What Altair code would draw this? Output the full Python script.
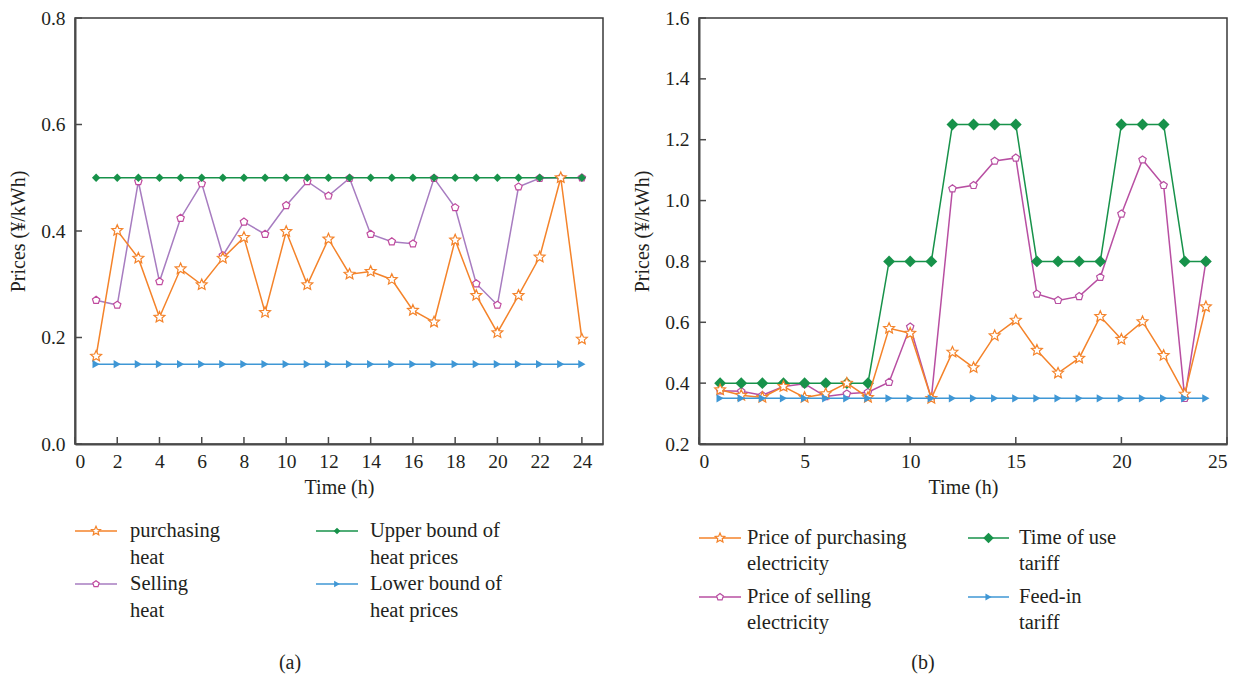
import altair as alt
import numpy as np
import pandas as pd

# ---------------- data ----------------
hours = [1, 2, 3, 4, 5, 6, 7, 8, 9, 10, 11, 12, 13, 14, 15, 16, 17, 18, 19, 20, 21, 22, 23, 24]

heat_purchase = [0.165, 0.401, 0.349, 0.238, 0.329, 0.299, 0.349, 0.388, 0.247, 0.399, 0.299, 0.385,
                 0.319, 0.324, 0.309, 0.251, 0.229, 0.383, 0.279, 0.209, 0.279, 0.351, 0.500, 0.197]
heat_sell = [0.270, 0.261, 0.493, 0.305, 0.424, 0.489, 0.354, 0.417, 0.394, 0.448, 0.493, 0.466,
             0.499, 0.394, 0.380, 0.376, 0.499, 0.444, 0.301, 0.261, 0.483, 0.499, 0.500, 0.500]
heat_upper = [0.5, 0.5, 0.5, 0.5, 0.5, 0.5, 0.5, 0.5, 0.5, 0.5, 0.5, 0.5,
              0.5, 0.5, 0.5, 0.5, 0.5, 0.5, 0.5, 0.5, 0.5, 0.5, 0.5, 0.5]
heat_lower = [0.15, 0.15, 0.15, 0.15, 0.15, 0.15, 0.15, 0.15, 0.15, 0.15, 0.15, 0.15,
              0.15, 0.15, 0.15, 0.15, 0.15, 0.15, 0.15, 0.15, 0.15, 0.15, 0.15, 0.15]

elec_purchase = [0.378, 0.360, 0.353, 0.389, 0.353, 0.365, 0.400, 0.353, 0.580, 0.564, 0.350, 0.502,
                 0.451, 0.556, 0.607, 0.508, 0.433, 0.482, 0.619, 0.544, 0.602, 0.491, 0.364, 0.651]
elec_sell = [0.375, 0.373, 0.360, 0.389, 0.398, 0.356, 0.365, 0.370, 0.403, 0.585, 0.350, 1.039,
             1.050, 1.130, 1.140, 0.693, 0.672, 0.685, 0.748, 0.956, 1.134, 1.050, 0.350, 0.800]
tou_tariff = [0.4, 0.4, 0.4, 0.4, 0.4, 0.4, 0.4, 0.4, 0.8, 0.8, 0.8, 1.25,
              1.25, 1.25, 1.25, 0.8, 0.8, 0.8, 0.8, 1.25, 1.25, 1.25, 0.8, 0.8]
feed_in = [0.35, 0.35, 0.35, 0.35, 0.35, 0.35, 0.35, 0.35, 0.35, 0.35, 0.35, 0.35,
           0.35, 0.35, 0.35, 0.35, 0.35, 0.35, 0.35, 0.35, 0.35, 0.35, 0.35, 0.35]

left_x_ticks = [0, 2, 4, 6, 8, 10, 12, 14, 16, 18, 20, 22, 24]
left_y_ticks = [0.0, 0.2, 0.4, 0.6, 0.8]
right_x_ticks = [0, 5, 10, 15, 20, 25]
right_y_ticks = [0.2, 0.4, 0.6, 0.8, 1.0, 1.2, 1.4, 1.6]

left_labels = [["purchasing", "heat"], ["Selling", "heat"],
               ["Upper bound of", "heat prices"], ["Lower bound of", "heat prices"]]
right_labels = [["Price of purchasing", "electricity"], ["Price of selling", "electricity"],
                ["Time of use", "tariff"], ["Feed-in", "tariff"]]

x_title = "Time (h)"
y_title = "Prices (¥/kWh)"

# ---------------- style ----------------
FONT = "Liberation Serif"
TXT = "#231f20"
AXC = "#4a4a4a"
PW, PH = 528, 426
LH = 170

ORANGE = "#F4832A"
PURPLE_L = "#A77CC0"
MAGENTA = "#C04A9E"
PURPLE_R = "#B84FA2"
GREEN = "#17924A"
BLUE = "#3F97D5"


def star_path(r_in=0.46):
    pts = []
    for k in range(10):
        a = -np.pi / 2 + k * np.pi / 5
        r = 1.0 if k % 2 == 0 else r_in
        pts.append((r * np.cos(a), r * np.sin(a)))
    return "M" + "L".join(f"{x:.3f},{y:.3f}" for x, y in pts) + "Z"


def poly_path(n=5):
    pts = []
    for k in range(n):
        a = -np.pi / 2 + k * 2 * np.pi / n
        pts.append((np.cos(a), np.sin(a)))
    return "M" + "L".join(f"{x:.3f},{y:.3f}" for x, y in pts) + "Z"


STAR = star_path()
PENT = poly_path(5)


def point_kw(st, size):
    if st["hollow"]:
        return dict(shape=st["shape"], filled=True, fill="white",
                    stroke=st["mcolor"], strokeWidth=1.2, size=size, opacity=1)
    return dict(shape=st["shape"], filled=True, color=st["mcolor"], size=size, opacity=1)


def panel(series, draw_order, xdom, ydom, xticks, yticks):
    xs = alt.Scale(domain=xdom, nice=False, zero=False)
    ys = alt.Scale(domain=ydom, nice=False, zero=False)
    xa = alt.Axis(values=xticks, title=x_title, format="d", labelPadding=8, titlePadding=7)
    ya = alt.Axis(values=yticks, title=y_title, format=".1f", labelPadding=10, titlePadding=12)
    layers = []
    for i in draw_order:
        st = series[i]
        df = pd.DataFrame({"hour": hours, "price": st["values"]})
        base = alt.Chart(df).encode(
            x=alt.X("hour:Q", scale=xs, axis=xa),
            y=alt.Y("price:Q", scale=ys, axis=ya),
        )
        layers.append(base.mark_line(color=st["lcolor"], strokeWidth=1.5))
        layers.append(base.mark_point(**point_kw(st, st["size"])))
    yt = alt.Chart(pd.DataFrame({"price": yticks})).mark_rule(color=AXC, strokeWidth=1.5).encode(
        y=alt.Y("price:Q", scale=ys, axis=ya), x=alt.value(0), x2=alt.value(7))
    xt = alt.Chart(pd.DataFrame({"hour": xticks})).mark_rule(color=AXC, strokeWidth=1.5).encode(
        x=alt.X("hour:Q", scale=xs, axis=xa), y=alt.value(PH), y2=alt.value(PH - 7))
    return alt.layer(*layers, yt, xt).properties(width=PW, height=PH)


def legend(series, labels, sym_x, text_x, row_y, line_gap, caption, cap_x, cap_y):
    xs = alt.Scale(domain=[0, PW], nice=False, zero=False)
    ys = alt.Scale(domain=[0, LH], nice=False, zero=False, reverse=True)
    layers = []
    txt_rows = []
    for i, st in enumerate(series):
        col, row = i // 2, i % 2
        x0, x1 = sym_x[col]
        y = row_y[row]
        seg = pd.DataFrame({"x": [x0], "x2": [x1], "y": [y], "xm": [(x0 + x1) / 2]})
        layers.append(alt.Chart(seg).mark_rule(color=st["lcolor"], strokeWidth=1.5).encode(
            x=alt.X("x:Q", scale=xs, axis=None), x2="x2:Q",
            y=alt.Y("y:Q", scale=ys, axis=None)))
        layers.append(alt.Chart(seg).mark_point(**point_kw(st, st["lsize"])).encode(
            x=alt.X("xm:Q", scale=xs, axis=None), y=alt.Y("y:Q", scale=ys, axis=None)))
        for j, line in enumerate(labels[i]):
            txt_rows.append({"x": text_x[col], "y": y + j * line_gap, "t": line})
    tdf = pd.DataFrame(txt_rows)
    layers.append(alt.Chart(tdf).mark_text(align="left", baseline="middle", font=FONT,
                                           fontSize=20.5, color=TXT).encode(
        x=alt.X("x:Q", scale=xs, axis=None), y=alt.Y("y:Q", scale=ys, axis=None), text="t:N"))
    cdf = pd.DataFrame({"x": [cap_x], "y": [cap_y], "t": [caption]})
    layers.append(alt.Chart(cdf).mark_text(align="center", baseline="middle", font=FONT,
                                           fontSize=20, color=TXT).encode(
        x=alt.X("x:Q", scale=xs, axis=None), y=alt.Y("y:Q", scale=ys, axis=None), text="t:N"))
    return alt.layer(*layers).properties(
        width=PW, height=LH, view=alt.ViewBackground(strokeOpacity=0))


left_series = [
    {"values": heat_purchase, "lcolor": ORANGE, "mcolor": ORANGE, "shape": STAR, "hollow": True, "size": 130, "lsize": 90},
    {"values": heat_sell, "lcolor": PURPLE_L, "mcolor": MAGENTA, "shape": PENT, "hollow": True, "size": 60, "lsize": 45},
    {"values": heat_upper, "lcolor": GREEN, "mcolor": GREEN, "shape": "diamond", "hollow": False, "size": 70, "lsize": 45},
    {"values": heat_lower, "lcolor": BLUE, "mcolor": BLUE, "shape": "triangle-right", "hollow": False, "size": 70, "lsize": 45},
]
right_series = [
    {"values": elec_purchase, "lcolor": ORANGE, "mcolor": ORANGE, "shape": STAR, "hollow": True, "size": 130, "lsize": 100},
    {"values": elec_sell, "lcolor": PURPLE_R, "mcolor": PURPLE_R, "shape": PENT, "hollow": True, "size": 60, "lsize": 50},
    {"values": tou_tariff, "lcolor": GREEN, "mcolor": GREEN, "shape": "diamond", "hollow": False, "size": 140, "lsize": 110},
    {"values": feed_in, "lcolor": BLUE, "mcolor": BLUE, "shape": "triangle-right", "hollow": False, "size": 70, "lsize": 50},
]

left_plot = panel(left_series, [1, 2, 0, 3], [0, 25], [0, 0.8], left_x_ticks, left_y_ticks)
right_plot = panel(right_series, [1, 2, 0, 3], [0, 25], [0.2, 1.6], right_x_ticks, right_y_ticks)

left_leg = legend(left_series, left_labels, [(0, 42), (241, 283)], [55, 295], [26, 79], 26.5,
                  "(a)", 215, 158)
right_leg = legend(right_series, right_labels, [(0, 42), (269, 310)], [48, 320], [33, 92], 26,
                   "(b)", 224, 158)

chart = alt.hconcat(
    alt.vconcat(left_plot, left_leg, spacing=6),
    alt.vconcat(right_plot, right_leg, spacing=6),
    spacing=27,
).properties(
    padding={"left": 7, "top": 7, "right": 5, "bottom": 5}
).configure_axis(
    labelFont=FONT, labelFontSize=19.5, labelColor=TXT,
    titleFont=FONT, titleFontSize=20, titleFontWeight="normal", titleColor=TXT,
    grid=False, tickSize=0, ticks=False, domainColor=AXC, domainWidth=2,
).configure_view(stroke="#3a3a3a", strokeWidth=1.5)

chart.save("out.html", embed_options={"renderer": "svg", "actions": False})
